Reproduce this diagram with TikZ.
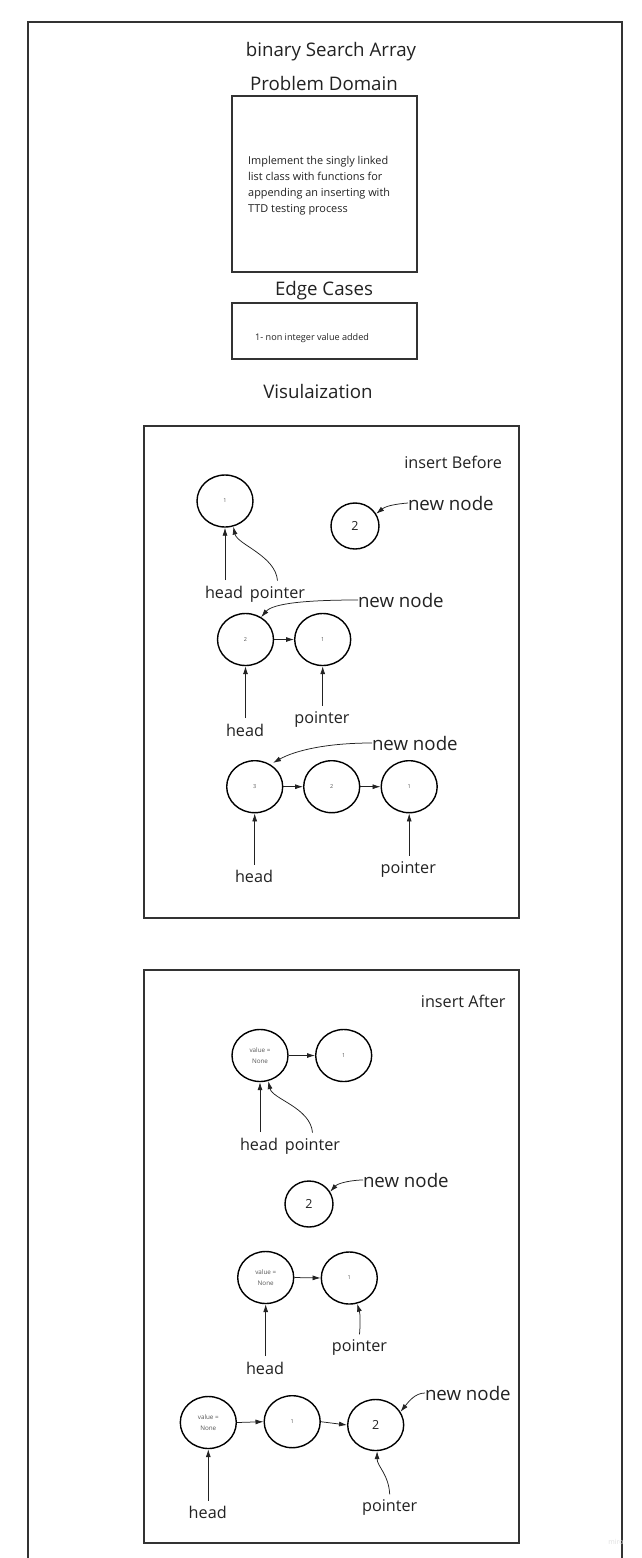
\documentclass[tikz,border=0pt]{standalone}
\usepackage{fontspec}
\setmainfont{Open Sans}
\usetikzlibrary{shapes.geometric,arrows.meta}
\definecolor{txt}{HTML}{222222}
\definecolor{frm}{HTML}{333333}
\definecolor{small}{HTML}{555555}
\begin{document}
\begin{tikzpicture}[x=1pt,y=-1pt,
  box/.style={draw=frm, line width=1.3pt},
  heading/.style={inner sep=0pt, outer sep=0pt, text=txt, font=\fontsize{18.7}{22}\selectfont},
  nn/.style={inner sep=0pt, outer sep=0pt, text=txt, font=\fontsize{18.7}{22}\selectfont},
  lbl/.style={inner sep=0pt, outer sep=5.5pt, text=txt, font=\fontsize{16.2}{19}\selectfont},
  lnode/.style={ellipse, draw=black, line width=1.4pt, minimum width=56pt, minimum height=52pt,
    inner sep=0pt, text=small, font=\fontsize{5.5}{6}\selectfont, align=center},
  vnode/.style={lnode, font=\fontsize{6.3}{10.7}\selectfont},
  bnode/.style={lnode, text=txt, font=\fontsize{12.5}{14}\selectfont},
  arr/.style={draw=txt, line width=0.75pt, -{Latex[length=8pt,width=5pt]}}
]
\useasboundingbox (0,0) rectangle (641,1558);
\fill[white] (0,0) rectangle (641,1558);

% outer frame (open at bottom)
\draw[box] (28,1575) -- (28,22) -- (622,22) -- (622,1575);

% header
\node[heading, anchor=base] (title) at (331,56) {binary Search Array};
\node[heading, anchor=base] (pdh) at (324,90) {Problem Domain};
\draw[box] (232,96) rectangle (417,272);
\node[inner sep=0pt, anchor=north west, align=left, text=txt,
  font=\fontsize{10.9}{15.7}\selectfont] (pdt) at (248,156.5)
  {Implement the singly linked\\list class with functions for\\appending an inserting with\\TTD testing process};
\node[heading, anchor=base] (ech) at (324,295) {Edge Cases};
\draw[box] (232,303) rectangle (417,359);
\node[inner sep=0pt, anchor=base west, text=txt, font=\fontsize{9.1}{10}\selectfont] (ect) at (255,340)
  {1- non integer value added};
\node[heading, anchor=base] (vis) at (318,398) {Visulaization};

% ===== insert Before =====
\draw[box] (144,426) rectangle (519,918);
\node[lbl, outer sep=0pt, anchor=base east] (ib) at (502,468) {insert Before};

% row 1
\node[lnode] (c11) at (225,501) {1};
\node[bnode, minimum width=48pt, minimum height=46pt] (cn1) at (355,526) {2};
\node[nn, anchor=base west] (nn1) at (408,510) {new node};
\draw[arr] (nn1.west) .. controls +(-12,1) and +(10,-8) .. (cn1.30);
\node[lbl, anchor=base] (hd1) at (224,598) {head};
\node[lbl, anchor=base] (pt1) at (277.5,598) {pointer};
\draw[arr] (hd1.north -| c11.south) -- (c11.south);
\draw[arr] (pt1.north) .. controls +(-2,-25) and +(4,18) .. (c11.-72);

% row 2
\node[lnode] (c21) at (245.5,639.5) {2};
\node[lnode] (c22) at (322.7,639.5) {1};
\draw[arr] (c21.east) -- (c22.west);
\node[nn, anchor=base west] (nn2) at (358,607) {new node};
\draw[arr] (nn2.west) .. controls +(-50,0) and +(12,-14) .. (c21.55);
\node[lbl, anchor=base] (hd2) at (245,736) {head};
\node[lbl, anchor=base] (pt2) at (322,723) {pointer};
\draw[arr] (hd2.north -| c21.south) -- (c21.south);
\draw[arr] (pt2.north -| c22.south) -- (c22.south);

% row 3
\node[lnode] (c31) at (254.7,786.7) {3};
\node[lnode] (c32) at (331.7,786.7) {2};
\node[lnode] (c33) at (409.2,786.7) {1};
\draw[arr] (c31.east) -- (c32.west);
\draw[arr] (c32.east) -- (c33.west);
\node[nn, anchor=base west] (nn3) at (372,750) {new node};
\draw[arr, shorten >=3pt] (nn3.west) .. controls +(-45,0) and +(25,-14) .. (c31.55);
\node[lbl, anchor=base] (hd3) at (254,882.7) {head};
\node[lbl, anchor=base] (pt3) at (408.3,873.3) {pointer};
\draw[arr] (hd3.north -| c31.south) -- (c31.south);
\draw[arr] (pt3.north -| c33.south) -- (c33.south);

% ===== insert After =====
\draw[box] (144,970) rectangle (519,1543);
\node[lbl, outer sep=0pt, anchor=base east] (ia) at (505.5,1007) {insert After};

% row 1
\node[vnode] (c41) at (260,1055.5) {value =\\None};
\node[lnode] (c42) at (343.7,1055.5) {1};
\draw[arr] (c41.east) -- (c42.west);
\node[lbl, anchor=base] (hd4) at (259,1150) {head};
\node[lbl, anchor=base] (pt4) at (312.5,1150) {pointer};
\draw[arr] (hd4.north -| c41.south) -- (c41.south);
\draw[arr] (pt4.north) .. controls +(-2,-25) and +(4,18) .. (c41.-72);

% new node alone
\node[bnode, minimum width=48pt, minimum height=46pt] (c43) at (309,1204) {2};
\node[nn, anchor=base west] (nn4) at (363,1187) {new node};
\draw[arr] (nn4.west) .. controls +(-10,0) and +(8,-9) .. (c43.30);

% row 2
\node[vnode] (c51) at (265.7,1277.5) {value =\\None};
\node[lnode] (c52) at (349.3,1278) {1};
\draw[arr] (c51.east) -- (c52.west);
\node[lbl, anchor=base] (hd5) at (265,1374) {head};
\node[lbl, anchor=base] (pt5) at (359.5,1351.7) {pointer};
\draw[arr] (hd5.north -| c51.south) -- (c51.south);
\draw[arr] (pt5.north) .. controls +(1,-12) and +(3,10) .. (c52.-73);

% row 3
\node[vnode] (c61) at (208.3,1422.5) {value =\\None};
\node[lnode] (c62) at (292.2,1421.7) {1};
\node[bnode, minimum height=51pt] (c63) at (375.7,1425) {2};
\draw[arr] (c61.east) -- (c62.west);
\draw[arr] (c62.east) -- (c63.west);
\node[nn, anchor=base west] (nn6) at (425,1400) {new node};
\draw[arr] (nn6.west) .. controls +(-10,0) and +(8,-10) .. (c63.28);
\node[lbl, anchor=base] (hd6) at (207.7,1518.3) {head};
\node[lbl, anchor=base] (pt6) at (389.7,1511.7) {pointer};
\draw[arr] (hd6.north -| c61.south) -- (c61.south);
\draw[arr] (pt6.north) .. controls +(-1,-20) and +(0,15) .. (c63.-87);

% watermark
\node[inner sep=0pt, anchor=base, text=black!12, font=\fontsize{7}{8}\selectfont] (miro) at (616,1544) {miro};
\end{tikzpicture}
\end{document}
